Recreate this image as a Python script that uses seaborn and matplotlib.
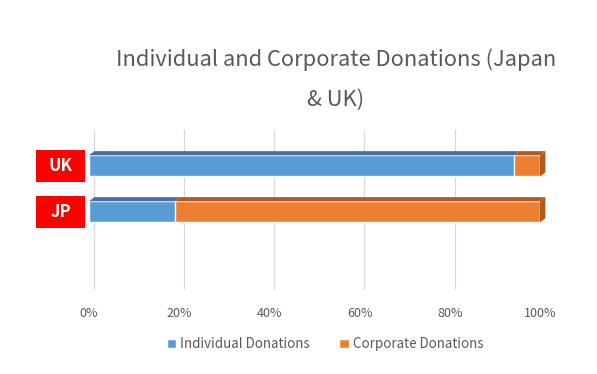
import matplotlib
matplotlib.use("Agg")
import matplotlib.pyplot as plt
import matplotlib.transforms as mtransforms
from matplotlib.patches import Polygon, Rectangle
import pandas as pd
import seaborn as sns

countries = ["UK", "JP"]
individual = [94.2, 19.0]
corporate = [5.8, 81.0]
series_names = ["Individual Donations", "Corporate Donations"]
ticks = [0, 20, 40, 60, 80, 100]

face_colors = ["#5B9BD5", "#ED7D31"]
dark_colors = ["#41719C", "#AE5A21"]

sns.set_theme(style="white")
plt.rcParams["font.family"] = ["Noto Sans CJK JP", "DejaVu Sans"]

df = pd.DataFrame({"country": countries, "individual": individual, "corporate": corporate})
df["total"] = df["individual"] + df["corporate"]

fig = plt.figure(figsize=(5.97, 3.74), dpi=100)
ax = fig.add_axes([89 / 597, 1 - 290 / 374, 451 / 597, 160 / 374])

bar_h = 0.46
# corporate drawn as full stack, individual on top of it
sns.barplot(data=df, y="country", x="total", color=face_colors[1], orient="h", saturation=1,
            width=bar_h, ax=ax, label=series_names[1], zorder=3)
sns.barplot(data=df, y="country", x="individual", color=face_colors[0], orient="h", saturation=1,
            width=bar_h, ax=ax, label=series_names[0], zorder=3)
handles, labels = ax.get_legend_handles_labels()
if ax.get_legend() is not None:
    ax.get_legend().remove()

# pseudo 3D top and side faces
dx, dy = 1.2, 0.09
for i, row in df.iterrows():
    y_top = i - bar_h / 2
    segs = [(0, row["individual"], 0), (row["individual"], row["total"], 1)]
    for left, right, k in segs:
        ax.add_patch(Polygon([(left, y_top), (right, y_top), (right + dx, y_top - dy),
                              (left + dx, y_top - dy)], closed=True,
                             facecolor=dark_colors[k], edgecolor="none", zorder=4, clip_on=False))
    ax.add_patch(Polygon([(row["total"], y_top), (row["total"] + dx, y_top - dy),
                          (row["total"] + dx, y_top - dy + bar_h), (row["total"], y_top + bar_h)],
                         closed=True, facecolor=dark_colors[1], edgecolor="none", zorder=4, clip_on=False))

ax.set_xlim(0, 100)
ax.set_ylim(2.7, -0.78)
ax.set_xticks(ticks)
ax.set_xticklabels([f"{t}%" for t in ticks], color="#595959", fontsize=9)
ax.tick_params(axis="x", length=0, pad=12)
ax.set_yticks([])
ax.set_xlabel("")
ax.set_ylabel("")
for s in ax.spines.values():
    s.set_visible(False)
for t in ticks:
    ax.axvline(t + dx * 0.9, color="#D9D9D9", lw=0.9, zorder=0)

# red country labels
trans = mtransforms.blended_transform_factory(ax.transAxes, ax.transData)
for i, c in enumerate(countries):
    ax.add_patch(Rectangle((-0.1175, i - 0.35), 0.1086, 0.7, transform=trans,
                           facecolor="#FF0000", edgecolor="none", clip_on=False, zorder=5))
    ax.text(-0.063, i, c, transform=trans, ha="center", va="center", color="white",
            fontsize=12, fontweight="bold", zorder=6)

fig.text(336 / 597, 1 - 60 / 374, "Individual and Corporate Donations (Japan",
         ha="center", va="center", fontsize=15.8, color="#595959")
fig.text(336 / 597, 1 - 100 / 374, "& UK)", ha="center", va="center", fontsize=15.8, color="#595959")

order = [labels.index(n) for n in series_names]
fig.legend([handles[o] for o in order], series_names, loc="center", bbox_to_anchor=(325 / 597, 1 - 344 / 374),
           ncol=2, frameon=False, fontsize=9.6, labelcolor="#595959", handlelength=0.7, handleheight=0.7,
           handletextpad=0.3, columnspacing=2.2)

fig.savefig("out.png", dpi=100)
